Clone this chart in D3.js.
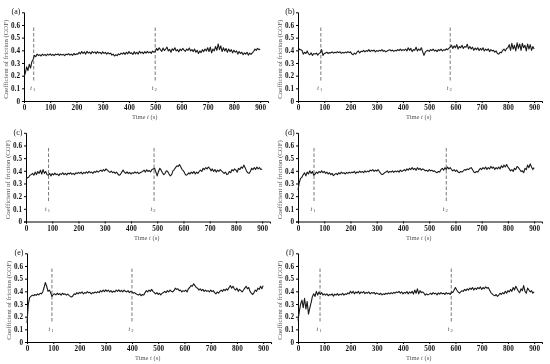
<!DOCTYPE html>
<html>
<head>
<meta charset="utf-8">
<script src="https://cdn.jsdelivr.net/npm/d3@7"></script>
<style>
  html, body { margin: 0; padding: 0; background: #fff; }
  svg { display: block; will-change: transform; }
</style>
</head>
<body>
<div id="chart"></div>
<script>
// ── Data ─────────────────────────────────────────────────────
// COF traces, one value every STEP seconds (0 … 900 s)
const STEP = 5;
const TICKS_X = [0, 100, 200, 300, 400, 500, 600, 700, 800, 900];
const TICKS_Y = [0, 0.1, 0.2, 0.3, 0.4, 0.5, 0.6];
const LABELS  = ['(a)', '(b)', '(c)', '(d)', '(e)', '(f)'];
const T1 = [37, 87, 86, 61, 95, 84];       // start of stage t1 (s)
const T2 = [500, 580, 488, 565, 400, 584]; // start of stage t2 (s)

const cofA = [
  0.19,0.22,0.27,0.24,0.29,0.26,0.31,0.33,0.36,
  0.35,0.37,0.36,0.365,0.355,0.37,0.36,0.368,0.357,0.37,0.362,0.372,0.36,0.368,0.358,0.37,
  0.365,0.372,0.36,0.37,0.362,0.368,0.358,0.37,0.365,0.373,0.362,0.37,0.36,0.375,0.365,0.372,
  0.37,0.385,0.372,0.39,0.375,0.388,0.37,0.392,0.378,0.386,0.372,0.39,0.38,0.387,0.374,0.39,
  0.378,0.385,0.372,0.388,0.376,0.384,0.37,0.382,0.372,0.378,
  0.362,0.37,0.355,0.365,0.358,0.372,0.365,0.378,0.37,
  0.382,0.368,0.385,0.372,0.39,0.375,0.38,0.368,0.388,0.372,0.385,0.37,0.392,0.378,0.386,
  0.374,0.39,0.378,0.392,0.38,0.388,0.376,0.394,0.385,0.39,
  0.415,0.4,0.42,0.405,0.392,0.418,0.398,0.41,0.425,0.395,0.408,0.385,0.412,0.4,0.42,0.395,
  0.405,0.388,0.41,0.398,0.415,0.402,0.392,0.41,0.4,0.418,0.395,0.405,0.39,0.41,0.385,0.4,
  0.375,0.395,0.382,0.405,0.39,0.41,0.395,0.42,
  0.39,0.425,0.38,0.41,0.395,0.43,0.4,0.45,0.405,0.435,0.39,0.42,0.395,0.415,0.385,0.41,
  0.39,0.405,0.38,0.4,
  0.385,0.395,0.37,0.39,0.375,0.385,0.365,0.38,0.37,0.385,0.362,0.378,0.368,0.38,
  0.39,0.41,0.4,0.415,0.405,0.41
];

const cofB = [
  0.39,0.41,0.405,0.4,0.37,0.385,0.375,0.395,0.372,
  0.365,0.38,0.36,0.375,0.37,0.378,0.362,0.375,0.38,
  0.405,0.36,0.375,
  0.378,0.385,0.375,0.382,0.38,0.388,0.378,0.385,0.38,0.39,0.382,0.388,0.376,0.384,0.378,
  0.386,0.38,0.39,0.382,0.388,
  0.372,0.365,0.378,0.37,
  0.385,0.395,0.38,0.392,0.39,0.4,0.388,0.398,0.392,0.405,0.39,0.4,0.395,0.402,0.388,0.398,
  0.392,0.4,0.395,0.405,0.392,0.398,0.388,0.395,0.4,0.405,0.395,0.402,0.392,0.4,0.395,0.405,
  0.398,0.41,0.398,0.405,
  0.4,0.41,0.395,0.42,0.4,0.415,0.39,0.405,0.4,0.425,0.395,0.41,0.4,0.42,0.39,
  0.36,0.385,0.395,
  0.4,0.392,0.405,0.398,0.41,0.395,0.402,0.39,0.405,0.398,0.41,0.395,0.405,0.4,0.412,0.405,0.415,
  0.425,0.44,0.415,0.435,0.42,0.445,0.41,0.43,0.42,0.44,0.415,0.43,0.425,0.448,0.412,0.43,
  0.41,0.425,0.4,0.418,0.405,0.42,0.398,0.415,0.402,0.42,0.395,0.41,0.4,0.412,0.39,0.405,
  0.395,0.4,0.385,0.395,
  0.375,0.37,0.385,0.38,
  0.4,0.41,0.395,0.415,
  0.42,0.445,0.4,0.455,0.41,0.44,0.395,0.46,0.415,0.45,0.4,0.455,0.42,0.44,0.395,0.45,
  0.41,0.445,0.4,0.43,0.41
];

const cofC = [
  0.33,0.345,0.35,0.365,0.37,
  0.38,0.365,0.39,0.37,0.395,0.38,0.405,0.375,0.41,0.38,0.395,0.37,
  0.365,0.38,0.36,0.378,0.368,0.382,0.37,0.375,0.362,0.378,0.372,0.385,0.37,0.38,0.368,0.382,
  0.375,0.385,0.372,0.38,0.37,0.385,0.378,0.388,
  0.38,0.39,0.375,0.388,0.38,0.392,0.382,0.395,0.385,0.39,0.38,0.395,0.388,0.4,0.39,0.398,
  0.405,0.395,0.41,0.4,0.415,0.405,
  0.395,0.388,0.398,0.385,0.392,0.38,0.39,
  0.375,0.365,0.37,
  0.39,0.405,
  0.39,0.38,0.392,0.378,0.388,0.375,0.385,0.38,0.392,0.382,0.39,0.378,0.385,0.39,
  0.395,0.405,0.39,0.408,0.395,0.402,0.392,0.41,
  0.415,0.42,0.39,
  0.36,
  0.395,0.42,0.405,
  0.385,0.37,0.38,
  0.4,0.395,
  0.375,0.36,0.37,
  0.4,0.41,
  0.425,0.44,0.435,0.45,
  0.43,0.41,0.4,
  0.38,0.365,0.37,
  0.385,0.375,0.39,0.38,0.395,0.375,0.39,0.38,0.395,
  0.405,0.395,0.42,0.41,
  0.425,0.415,0.43,0.42,
  0.4,0.415,0.395,0.41,0.39,0.405,0.395,0.41,0.4,0.39,
  0.38,0.39,0.37,0.375,
  0.395,0.385,0.41,0.4,0.415,
  0.405,0.39,0.42,0.41,0.43,0.42,
  0.445,0.425,
  0.4,0.385,0.38,0.395,
  0.42,0.41,0.425,0.41,0.43,0.415,0.425,0.41,0.415
];

const cofD = [
  0.25,0.31,0.34,0.35,
  0.37,0.385,0.36,0.39,0.375,0.4,0.38,0.395,
  0.365,0.375,
  0.39,0.38,0.395,0.385,0.4,0.385,0.395,
  0.38,0.39,0.375,0.385,0.37,0.38,0.362,0.372,
  0.38,0.37,0.385,0.375,0.39,0.38,0.385,0.375,0.388,0.38,0.39,0.382,
  0.39,0.385,0.395,0.38,0.392,0.385,0.398,0.388,0.395,0.385,0.4,0.39,0.398,0.392,0.405,
  0.4,0.41,0.395,0.405,0.398,0.41,0.395,
  0.38,0.37,0.375,0.385,
  0.39,0.4,0.385,0.395,0.39,0.4,0.388,0.398,0.392,0.4,0.39,0.405,0.395,0.4,
  0.41,0.4,0.415,0.405,0.42,0.41,0.425,0.41,0.42,0.405,0.425,0.41,0.42,0.405,0.415,
  0.41,0.4,0.405,0.395,0.41,0.4,0.405,0.395,0.4,
  0.39,0.385,0.395,0.39,
  0.41,0.42,0.405,0.425,0.41,0.43,0.415,0.425,0.41,
  0.4,0.41,0.395,0.405,0.39,
  0.385,0.395,0.39,0.4,0.41,
  0.405,0.415,0.41,0.42,
  0.425,0.41,0.39,
  0.385,0.395,0.39,
  0.405,0.42,0.41,0.425,0.415,0.43,0.41,0.425,0.415,0.435,0.42,0.43,0.41,0.425,0.415,
  0.43,0.415,0.44,0.425,0.445,0.43,0.45,
  0.43,0.415,0.4,0.41,0.395,
  0.42,0.41,0.435,0.425,
  0.41,0.395,0.4,0.385,
  0.42,0.41,0.445,0.425,0.455,0.43,0.41,0.425
];

const cofE = [
  0.15,0.3,0.35,
  0.36,0.37,0.365,0.375,0.368,0.38,0.372,0.385,0.38,
  0.395,0.43,0.47,0.44,
  0.4,0.41,0.39,
  0.36,0.375,
  0.38,0.372,0.385,0.375,0.382,0.37,0.385,0.375,0.38,0.37,0.378,0.368,
  0.36,0.355,0.365,
  0.38,0.375,0.39,0.38,0.392,0.385,0.395,0.38,0.39,0.385,0.398,0.388,0.392,0.38,0.39,0.385,
  0.395,0.388,0.398,0.39,
  0.405,0.395,0.41,0.398,0.412,0.4,0.41,0.395,0.405,0.392,0.402,0.395,0.41,0.4,0.412,0.398,
  0.408,0.395,0.41,0.4,
  0.395,0.405,0.39,0.4,0.395,
  0.385,0.39,0.38,0.375,0.37,0.38,0.365,0.375,0.37,
  0.39,0.405,0.395,0.41,0.4,0.415,0.4,0.39,
  0.38,0.39,0.375,0.385,0.372,0.385,0.39,
  0.4,0.39,0.405,0.395,0.41,0.4,
  0.395,0.405,0.425,0.415,
  0.42,0.405,0.41,0.395,0.405,
  0.4,0.41,0.395,0.42,
  0.43,0.445,0.44,0.46,0.445,0.43,
  0.425,0.41,0.42,0.405,0.415,0.4,
  0.41,0.4,0.405,0.395,0.41,0.398,0.405,0.39,
  0.38,0.395,0.385,0.4,
  0.41,0.4,0.415,0.405,
  0.42,0.41,0.43,0.445,0.425,0.44,
  0.42,0.41,0.425,0.4,0.415,0.405,0.395,0.41,
  0.425,0.44,0.42,0.43,
  0.4,0.385,0.375,
  0.39,0.41,0.4,0.425,0.415,0.44,0.42,0.445
];

const cofF = [
  0.17,0.24,0.3,
  0.33,0.27,0.345,0.26,0.32,0.22,0.27,
  0.31,0.36,
  0.38,0.36,0.4,0.37,0.395,
  0.375,0.39,0.37,0.38,
  0.37,0.38,0.365,0.375,0.37,0.38,0.362,0.378,0.37,0.382,0.368,0.378,0.372,0.385,0.37,0.38,
  0.375,0.388,0.38,0.4,
  0.385,0.4,0.38,0.395,0.385,0.4,0.38,0.395,0.388,0.398,0.382,0.392,0.385,0.395,0.38,0.39,
  0.385,0.392,0.378,0.388,
  0.38,0.375,0.385,0.372,0.38,0.375,0.385,0.378,0.388,0.38,0.39,0.382,0.392,0.385,0.395,0.39,
  0.4,0.385,0.395,0.38,0.392,0.385,0.398,0.38,0.395,0.385,0.4,0.378,0.41,0.385,0.42,0.38,
  0.405,0.39,0.395,0.385,
  0.37,0.38,0.372,0.378,
  0.385,0.375,0.39,0.38,0.385,0.372,0.388,0.378,0.39,0.38,0.385,0.375,0.39,0.38,0.385,
  0.375,0.395,0.39,0.41,
  0.43,0.41,0.395,0.385,
  0.395,0.405,0.4,0.415,0.405,0.42,0.41,0.425,0.415,0.43,0.41,0.425,0.415,0.43,0.42,0.435,
  0.415,0.43,0.42,0.435,
  0.425,0.43,0.41,0.39,
  0.38,0.37,0.365,0.375,
  0.36,0.37,0.385,0.375,
  0.39,0.38,0.4,0.385,0.405,
  0.395,0.415,0.4,0.43,0.41,
  0.44,0.42,0.4,
  0.39,0.42,0.405,0.445,
  0.4,0.385,0.425,0.41,0.395,0.405,0.385,0.395
];

const SERIES = [cofA, cofB, cofC, cofD, cofE, cofF];

// ── Layout ───────────────────────────────────────────────────
const W = 550, H = 364;
const COL_W = 275, ROW_H = 120.5;
const ORIGIN_X = [24, 23, 26, 23, 27, 23]; // x of t = 0 inside each panel
const ORIGIN_Y = 101;                       // y of COF = 0 inside each panel
const PX_PER_S = 0.2624;
const PX_PER_COF = 126.7;
const SERIF = '"Liberation Serif", "DejaVu Serif", serif';

const svg = d3.select('#chart').append('svg')
  .attr('width', W)
  .attr('height', H)
  .attr('font-family', SERIF);

SERIES.forEach((cof, i) => {
  const col = i % 2, row = Math.floor(i / 2);
  const g = svg.append('g')
    .attr('transform', `translate(${col * COL_W},${row * ROW_H})`);

  const x0 = ORIGIN_X[i];
  const x = d3.scaleLinear().domain([0, 930]).range([x0, x0 + 930 * PX_PER_S]);
  const y = d3.scaleLinear().domain([0, 0.7]).range([ORIGIN_Y, ORIGIN_Y - 0.7 * PX_PER_COF]);

  // axes
  const xAxis = g.append('g')
    .attr('transform', `translate(0,${ORIGIN_Y})`)
    .call(d3.axisBottom(x).tickValues(TICKS_X).tickSize(2).tickPadding(2)
      .tickFormat(d3.format('d')));
  const yAxis = g.append('g')
    .attr('transform', `translate(${x0},0)`)
    .call(d3.axisLeft(y).tickValues(TICKS_Y).tickSize(2).tickPadding(2)
      .tickFormat(d => d === 0 ? '0' : d3.format('.1f')(d)));

  [xAxis, yAxis].forEach(ax => {
    ax.select('.domain').attr('stroke', '#000').attr('stroke-width', 1);
    ax.selectAll('.tick line').attr('stroke', '#000');
    ax.selectAll('.tick text')
      .attr('fill', '#111')
      .attr('font-family', SERIF)
      .attr('font-size', 7.2)
      .attr('font-weight', 'bold');
  });

  // stage markers
  [T1[i], T2[i]].forEach((t, k) => {
    g.append('line')
      .attr('x1', x(t)).attr('x2', x(t))
      .attr('y1', y(0.58)).attr('y2', y(0.15))
      .attr('stroke', '#555')
      .attr('stroke-width', 0.8)
      .attr('stroke-dasharray', '3.5,2');
    const lbl = g.append('text')
      .attr('x', x(t) - 1)
      .attr('y', y(0.085))
      .attr('text-anchor', 'middle')
      .attr('font-size', 6)
      .attr('fill', '#444');
    lbl.append('tspan').attr('font-style', 'italic').text('t');
    lbl.append('tspan').attr('font-size', 4.5).attr('dx', 1).attr('dy', 1).text(k === 0 ? '1' : '2');
  });

  // COF trace
  const line = d3.line()
    .x((d, j) => x(j * STEP))
    .y(d => y(d));
  g.append('path')
    .datum(cof)
    .attr('d', line)
    .attr('fill', 'none')
    .attr('stroke', '#1a1a1a')
    .attr('stroke-width', 1.1)
    .attr('stroke-linejoin', 'round');

  // titles
  g.append('text')
    .attr('x', x0 - 8)
    .attr('y', 14)
    .attr('text-anchor', 'middle')
    .attr('font-size', 8)
    .attr('fill', '#111')
    .text(LABELS[i]);

  g.append('text')
    .attr('transform', `translate(${x0 - 16},${y(0.33)}) rotate(-90)`)
    .attr('text-anchor', 'middle')
    .attr('font-size', 6.8)
    .attr('fill', '#555')
    .text('Coefficient of friction (COF)');

  const xt = g.append('text')
    .attr('x', x(460))
    .attr('y', ORIGIN_Y + 18)
    .attr('text-anchor', 'middle')
    .attr('font-size', 6.5)
    .attr('fill', '#555');
  xt.append('tspan').text('Time ');
  xt.append('tspan').attr('font-style', 'italic').text('t');
  xt.append('tspan').text(' (s)');
});
</script>
</body>
</html>
